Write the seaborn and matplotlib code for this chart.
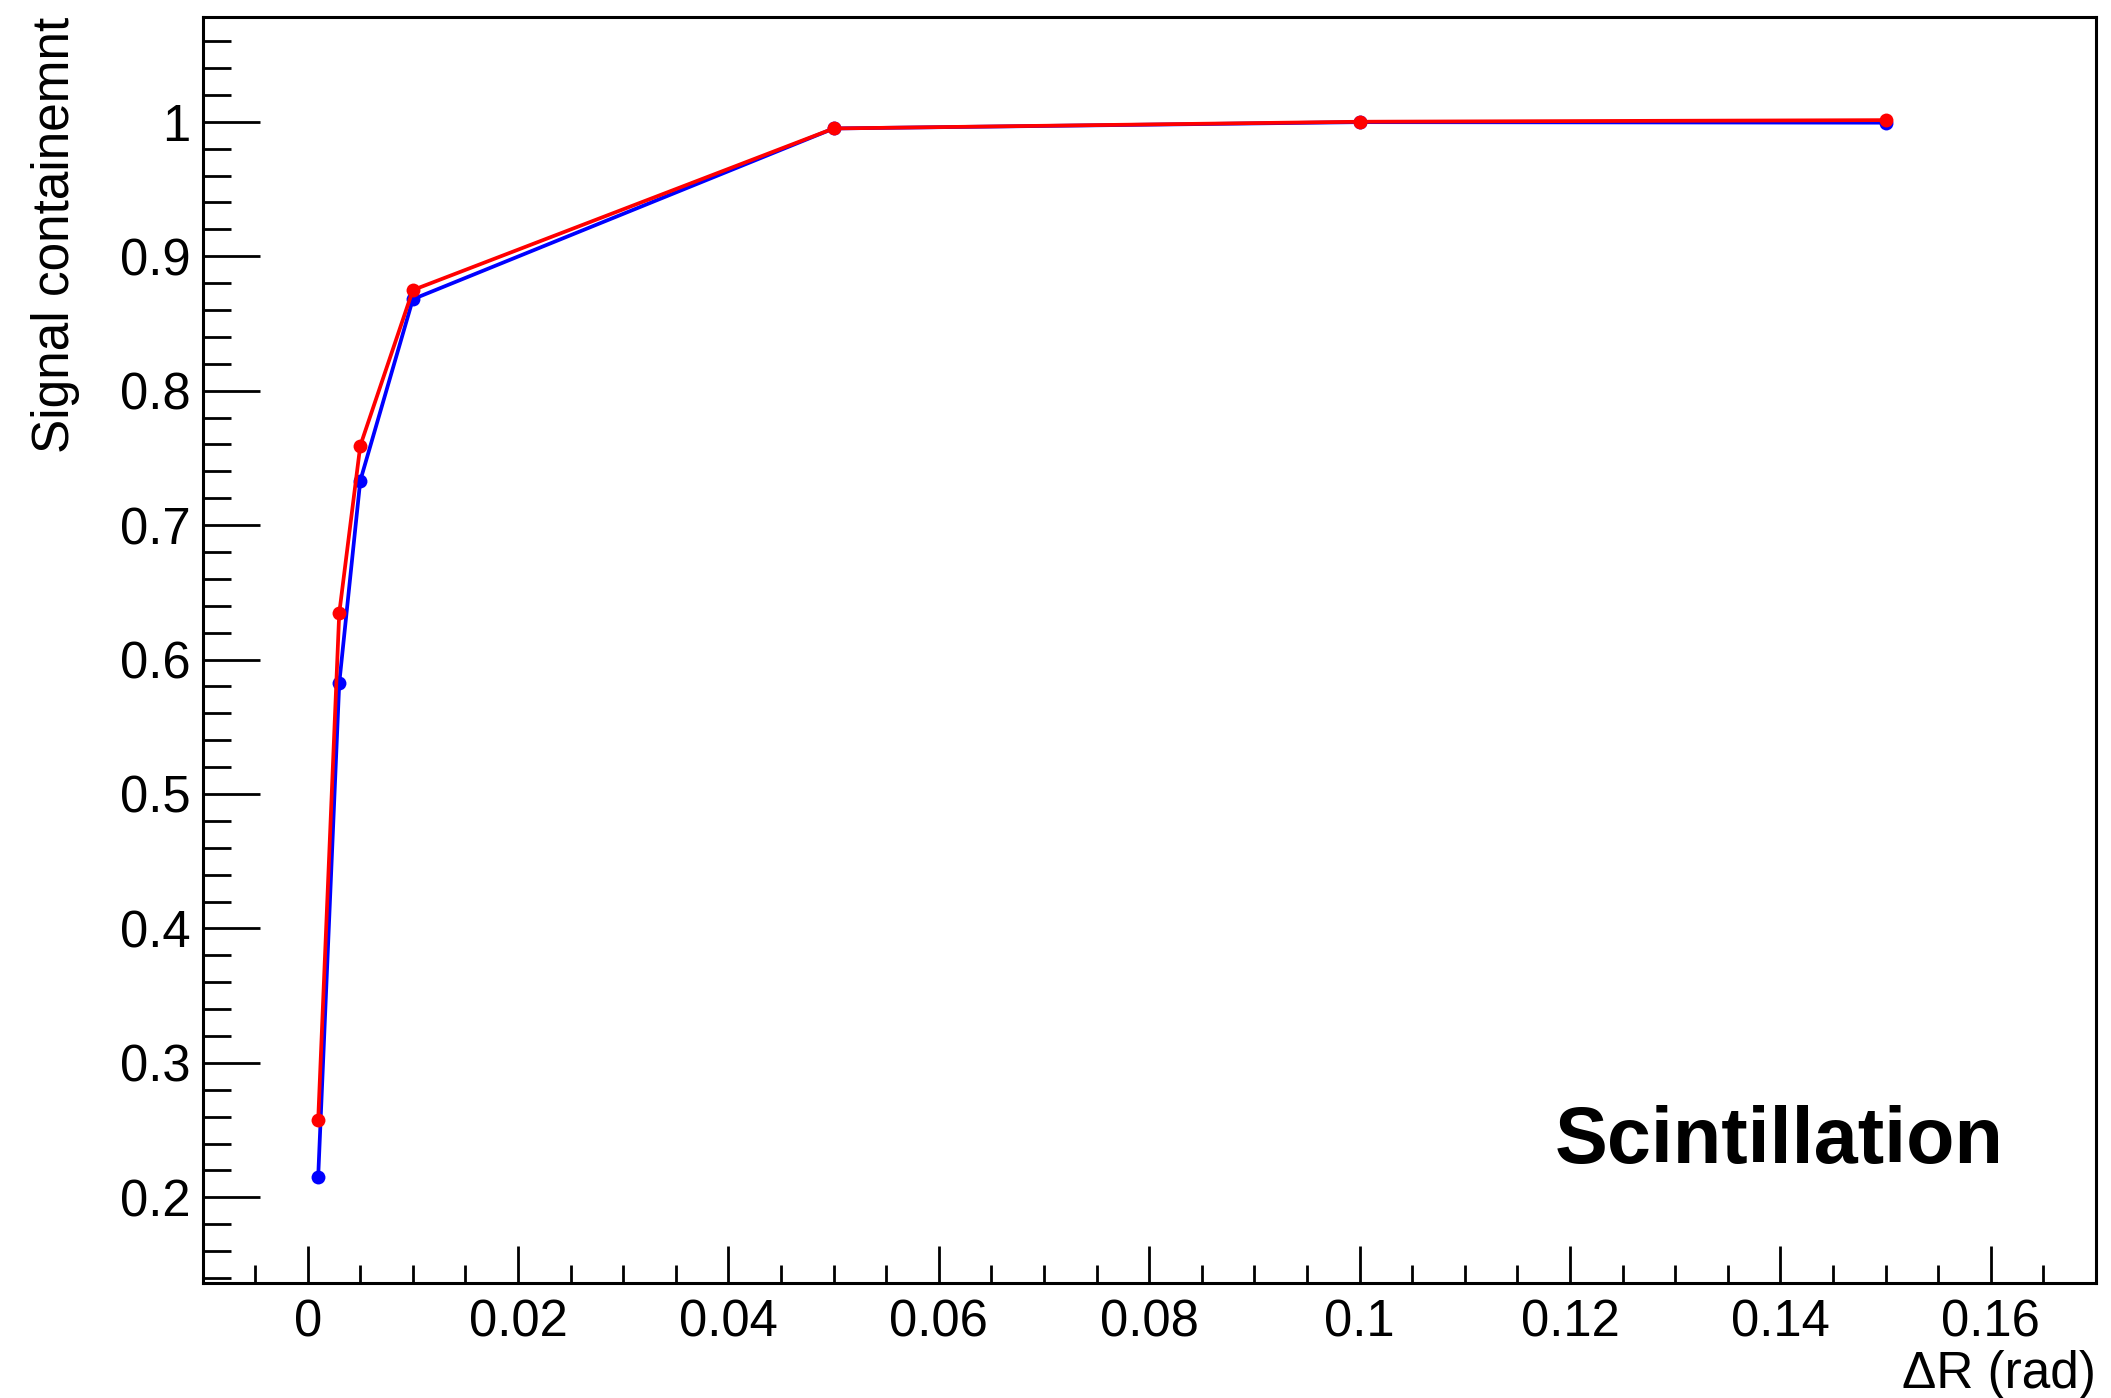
import matplotlib
matplotlib.use("Agg")
import matplotlib.pyplot as plt
from matplotlib.ticker import MultipleLocator, FormatStrFormatter
import seaborn as sns
import pandas as pd

# Cone half-opening ΔR (rad) and fraction of signal contained
delta_r = [0.001, 0.003, 0.005, 0.01, 0.05, 0.10, 0.15]
contain_blue = [0.2153, 0.5823, 0.733, 0.868, 0.995, 0.9997, 0.9993]
contain_red = [0.2575, 0.6344, 0.759, 0.8748, 0.995, 1.0, 1.0012]
series_names = ["blue", "red"]

df = pd.concat([
    pd.DataFrame({"dr": delta_r, "frac": contain_blue, "series": series_names[0]}),
    pd.DataFrame({"dr": delta_r, "frac": contain_red, "series": series_names[1]}),
])

sns.set_theme(style="white")
plt.rcParams["font.family"] = ["Liberation Sans", "DejaVu Sans"]
plt.rcParams.update({
    "text.color": "black",
    "axes.labelcolor": "black",
    "xtick.color": "black",
    "ytick.color": "black",
    "xtick.labelcolor": "black",
    "ytick.labelcolor": "black",
})

fig = plt.figure(figsize=(21.11, 13.98), dpi=100)
ax = fig.add_axes([203 / 2111, 1 - 1283 / 1398, (2096 - 203) / 2111, (1283 - 17) / 1398])

sns.lineplot(data=df, x="dr", y="frac", hue="series",
             palette={"blue": "#0000ff", "red": "#ff0000"},
             marker="o", markersize=10, markeredgewidth=0,
             linewidth=2.7, legend=False, ax=ax, sort=False)

ax.set_xlim(-0.00995, 0.1700)
ax.set_ylim(0.1363, 1.0779)

ax.xaxis.set_major_locator(MultipleLocator(0.02))
ax.xaxis.set_minor_locator(MultipleLocator(0.005))
ax.yaxis.set_major_locator(MultipleLocator(0.1))
ax.yaxis.set_minor_locator(MultipleLocator(0.02))
ax.xaxis.set_major_formatter(FormatStrFormatter("%g"))
ax.yaxis.set_major_formatter(FormatStrFormatter("%g"))

ax.tick_params(axis="x", which="major", direction="in", length=27, width=2,
               labelsize=36.5, pad=11, top=False, bottom=True,
               color="black", labelcolor="black")
ax.tick_params(axis="x", which="minor", direction="in", length=13, width=2,
               top=False, bottom=True, color="black")
ax.tick_params(axis="y", which="major", direction="in", length=41, width=2,
               labelsize=36.5, pad=9, right=False, left=True,
               color="black", labelcolor="black")
ax.tick_params(axis="y", which="minor", direction="in", length=20, width=2,
               right=False, left=True, color="black")

for side in ax.spines.values():
    side.set_visible(True)
    side.set_color("black")
    side.set_linewidth(2.2)

ax.set_xlabel("ΔR (rad)", fontsize=37, color="black")
ax.xaxis.set_label_coords(1.0, -0.053)
ax.xaxis.label.set_horizontalalignment("right")
ax.set_ylabel("Signal containemnt", fontsize=37, color="black")
ax.yaxis.set_label_coords(-0.078, 1.0)
ax.yaxis.label.set_verticalalignment("center")
ax.yaxis.label.set_horizontalalignment("right")

ax.text(0.1612, 0.2255, "Scintillation", fontsize=57, fontweight="bold",
        ha="right", va="baseline", color="black")

ax.grid(False)
fig.savefig("out.png", dpi=100, facecolor="white")
